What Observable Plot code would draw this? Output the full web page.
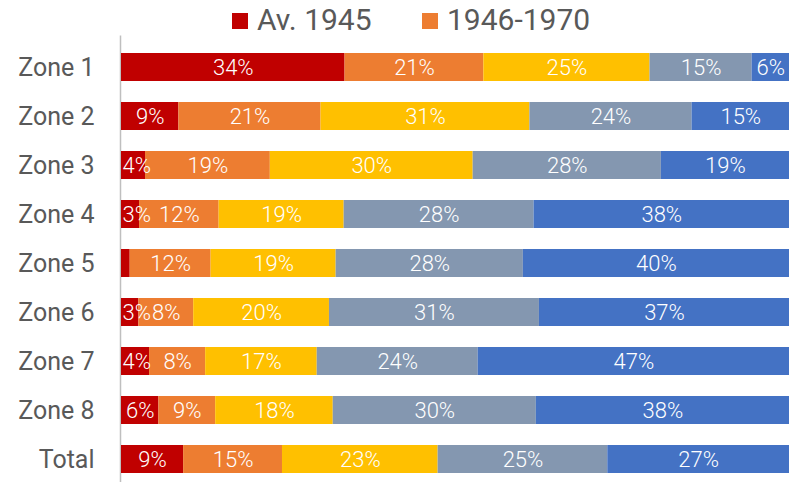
<!DOCTYPE html>
<html>
<head>
<meta charset="utf-8">
<script src="https://cdn.jsdelivr.net/npm/d3@7"></script>
<script src="https://cdn.jsdelivr.net/npm/@observablehq/plot@0.6"></script>
<style>
  html, body { margin: 0; padding: 0; background: #fff; }
  body { width: 801px; height: 482px; overflow: hidden; font-family: Roboto, "Noto Sans", sans-serif; }
  #legend { position: relative; height: 36px; width: 801px; }
  .sw { position: absolute; top: 13px; width: 16px; height: 16px; }
  .lab { position: absolute; top: 2px; font-size: 30px; line-height: 36px; color: #595959; white-space: nowrap; }
</style>
</head>
<body>
<div id="legend"></div>
<div id="chart"></div>
<script>
const zones = ["Zone 1","Zone 2","Zone 3","Zone 4","Zone 5","Zone 6","Zone 7","Zone 8","Total"];
const series = ["Av. 1945","1946-1970","1971-1990","1991-2005","Ap. 2005"];
const colors = ["#C00000","#ED7D31","#FFC000","#8497B0","#4472C4"];
const legendShown = ["Av. 1945","1946-1970"];
// values per series, one per zone (percent)
const avant1945 = [33.5, 8.6, 3.6, 2.7, 1.3, 2.6, 4.2, 5.6, 9.3];
const p1946_1970 = [20.8, 21.3, 18.7, 11.9, 12.1, 8.2, 8.4, 8.5, 14.8];
const p1971_1990 = [24.9, 31.3, 30.4, 18.7, 18.7, 20.3, 16.7, 17.6, 23.3];
const p1991_2005 = [15.3, 24.3, 28.2, 28.4, 28.0, 31.4, 24.1, 30.4, 25.4];
const apres2005 = [5.6, 14.6, 19.2, 38.2, 39.8, 37.4, 46.6, 37.9, 27.2];
const seriesValues = [avant1945, p1946_1970, p1971_1990, p1991_2005, apres2005];
const minLabel = 2;    // smaller segments carry no label
const narrowLabel = 5; // first-segment labels below this are pinned to the bar start

const data = [];
zones.forEach((z, i) => {
  series.forEach((s, j) => data.push({zone: z, series: s, value: seriesValues[j][i], first: j === 0}));
});
const isPinned = d => d.first && d.value < narrowLabel;

// legend
const leg = document.getElementById("legend");
const legendPos = [{sw: 232, tx: 257}, {sw: 422, tx: 447}];
legendShown.forEach((s, k) => {
  const sw = document.createElement("div");
  sw.className = "sw";
  sw.style.left = legendPos[k].sw + "px";
  sw.style.background = colors[series.indexOf(s)];
  const t = document.createElement("div");
  t.className = "lab";
  t.style.left = legendPos[k].tx + "px";
  t.textContent = s;
  leg.appendChild(sw); leg.appendChild(t);
});

const labelStyle = {fill: "white", fontSize: 22, fontWeight: 300};
const chart = Plot.plot({
  width: 801,
  height: 446,
  marginLeft: 121,
  marginRight: 12,
  marginTop: 12.6,
  marginBottom: 3.8,
  style: {fontFamily: "Roboto, 'Noto Sans', sans-serif", background: "white", overflow: "visible"},
  x: {domain: [0, 1], axis: null},
  y: {domain: zones, paddingInner: 0.429, paddingOuter: 0.05, label: null},
  color: {domain: series, range: colors},
  marks: [
    Plot.ruleX([0], {stroke: "#bfbfbf", strokeWidth: 1.5, dx: -1, insetTop: -13, insetBottom: -4}),
    Plot.barX(data, Plot.stackX({x: "value", y: "zone", fill: "series", z: "series", offset: "normalize"})),
    Plot.textX(data, Plot.stackX({
      x: "value", y: "zone", z: "series", offset: "normalize",
      text: d => d.value >= minLabel && !isPinned(d) ? Math.round(d.value) + "%" : "",
      ...labelStyle
    })),
    Plot.textX(data, Plot.stackX1({
      x: "value", y: "zone", z: "series", offset: "normalize",
      text: d => d.value >= minLabel && isPinned(d) ? Math.round(d.value) + "%" : "",
      textAnchor: "start", dx: 1,
      ...labelStyle
    })),
    Plot.axisY({tickSize: 0, tickPadding: 27, fontSize: 25, color: "#595959", label: null})
  ]
});
document.getElementById("chart").appendChild(chart);
</script>
</body>
</html>
